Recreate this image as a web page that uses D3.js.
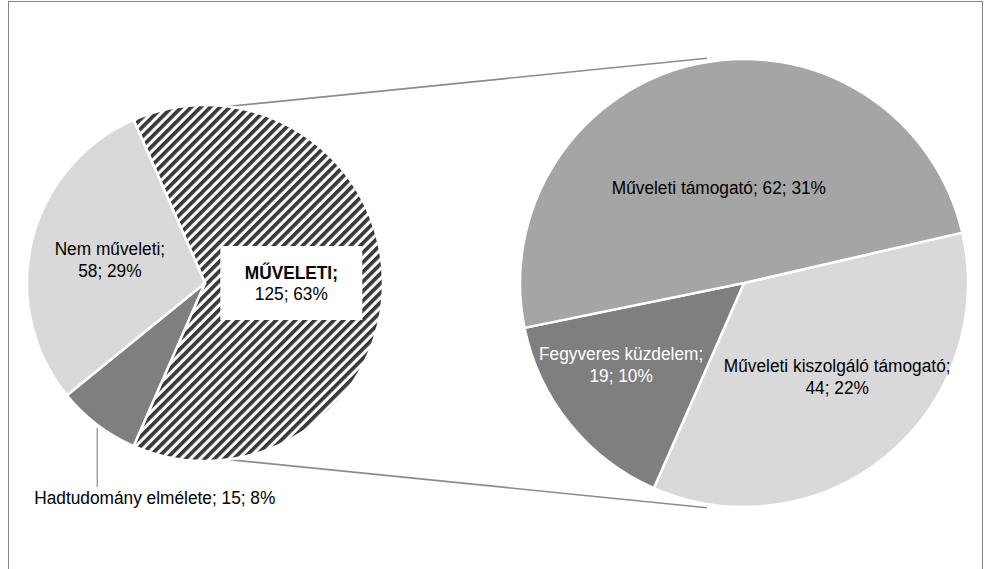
<!DOCTYPE html>
<html><head><meta charset="utf-8">
<script src="https://cdn.jsdelivr.net/npm/d3@7"></script>
<style>
html,body{margin:0;padding:0;background:#fff;}
svg{display:block;}
text{font-family:"Liberation Sans Narrow","Arial Narrow","Liberation Sans",Arial,sans-serif;font-size:18.4px;}
</style></head>
<body><svg id="chart" width="984" height="569"></svg>
<script>
// ---- data ----
const mainCategories = ["MŰVELETI", "Hadtudomány elmélete", "Nem műveleti"];
const mainValues = [125, 15, 58];
const subCategories = ["Műveleti kiszolgáló támogató", "Fegyveres küzdelem", "Műveleti támogató"];
const subValues = [44, 19, 62];
const mainColors = ["url(#hatch)", "#7f7f7f", "#d9d9d9"];
const subColors = ["#d9d9d9", "#7f7f7f", "#a5a5a5"];
const subTextColors = ["#000", "#fff", "#000"];

const svg = d3.select("#chart");
const total = d3.sum(mainValues);
const pct = v => Math.round(v / total * 100) + "%";
const SX = 0.94;

// border
svg.append("rect").attr("x", 8.5).attr("y", 1.5).attr("width", 974).attr("height", 600)
  .attr("fill", "none").attr("stroke", "#868686").attr("stroke-width", 1);

// hatch pattern
const defs = svg.append("defs");
const pat = defs.append("pattern").attr("id", "hatch").attr("patternUnits", "userSpaceOnUse")
  .attr("width", 6.8).attr("height", 6.8).attr("patternTransform", "rotate(45)");
pat.append("rect").attr("width", 6.8).attr("height", 6.8).attr("fill", "#fff");
pat.append("rect").attr("width", 3.7).attr("height", 6.8).attr("fill", "#383838");

// geometry
const c1 = {x: 205, y: 283, r: 178};
const c2 = {x: 744, y: 283, r: 224};
const deg = Math.PI / 180;

// connector lines (external tangents)
const dist = c2.x - c1.x;
const sinT = (c2.r - c1.r) / dist, cosT = Math.sqrt(1 - sinT * sinT);
[-1, 1].forEach(s => {
  const nx = -sinT, ny = s * cosT;
  const ux = cosT, uy = -s * sinT;
  const p1 = [c1.x + c1.r * nx + 25 * ux, c1.y + c1.r * ny + 25 * uy];
  const p2 = [c2.x + c2.r * nx - 18 * ux, c2.y + c2.r * ny - 18 * uy];
  svg.append("line").attr("x1", p1[0]).attr("y1", p1[1]).attr("x2", p2[0]).attr("y2", p2[1])
    .attr("stroke", "#8c8c8c").attr("stroke-width", 1.6);
});

// main pie
const mainStart = Math.PI / 2 - Math.PI * mainValues[0] / total;
const pie1 = d3.pie().sort(null).startAngle(mainStart).endAngle(mainStart + 2 * Math.PI);
const arcs1 = pie1(mainValues);
const arc1 = d3.arc().innerRadius(0).outerRadius(c1.r);
const g1 = svg.append("g").attr("transform", `translate(${c1.x},${c1.y})`);
g1.selectAll("path").data(arcs1).join("path")
  .attr("d", arc1).attr("fill", (d, i) => mainColors[i])
  .attr("stroke", "#fff").attr("stroke-width", 2.5).attr("stroke-linejoin", "round");

// sub pie
const subStart = 77 * deg;
const pie2 = d3.pie().sort(null).startAngle(subStart).endAngle(subStart + 2 * Math.PI);
const arcs2 = pie2(subValues);
const arc2 = d3.arc().innerRadius(0).outerRadius(c2.r);
const g2 = svg.append("g").attr("transform", `translate(${c2.x},${c2.y})`);
g2.selectAll("path").data(arcs2).join("path")
  .attr("d", arc2).attr("fill", (d, i) => subColors[i])
  .attr("stroke", "#fff").attr("stroke-width", 2.5).attr("stroke-linejoin", "round");

function polar(a, r) { return [r * Math.sin(a), -r * Math.cos(a)]; }
const LH = 22;
function multiLabel(g, pos, lines, color, weights, anchor) {
  const t = g.append("text").attr("text-anchor", anchor || "middle").attr("fill", color)
    .attr("transform", `translate(${pos[0]},${pos[1]}) scale(${SX},1)`);
  const n = lines.length;
  lines.forEach((ln, i) => {
    t.append("tspan").attr("x", 0).attr("y", (i - (n - 1) / 2) * LH + 6.5)
      .attr("font-weight", weights ? weights[i] : "normal").text(ln);
  });
  return t;
}

const midA = a => (a.startAngle + a.endAngle) / 2;
// MŰVELETI (boxed)
{
  const a = arcs1[0];
  const p = polar(midA(a), c1.r * 0.485);
  g1.append("rect").attr("x", p[0] - 71).attr("y", p[1] - 37).attr("width", 142).attr("height", 74).attr("fill", "#fff");
  multiLabel(g1, p, [mainCategories[0].toUpperCase() + ";", mainValues[0] + "; " + pct(mainValues[0])], "#000", ["bold", "normal"]);
}
// Nem műveleti
{
  const a = arcs1[2];
  const p = polar(midA(a), c1.r * 0.55);
  multiLabel(g1, p, [mainCategories[2] + ";", mainValues[2] + "; " + pct(mainValues[2])], "#000");
}
// Hadtudomány elmélete (outside with leader)
{
  const a = arcs1[1];
  const p = polar(midA(a), c1.r);
  g1.append("line").attr("x1", p[0]).attr("y1", p[1] + 3).attr("x2", p[0]).attr("y2", 487 - c1.y)
    .attr("stroke", "#8c8c8c").attr("stroke-width", 1.2);
  multiLabel(g1, [p[0] - 63, 497 - c1.y], [mainCategories[1] + "; " + mainValues[1] + "; " + pct(mainValues[1])], "#000", null, "start");
}

// sub labels (radius fraction and angular offset from slice middle)
const subR = [0.59, 0.658, 0.44];
const subDA = [-5.2, 5.4, -2.5];
arcs2.forEach((a, i) => {
  const p = polar(midA(a) + subDA[i] * deg, c2.r * subR[i]);
  const lines = i === 2
    ? [subCategories[i] + "; " + subValues[i] + "; " + pct(subValues[i])]
    : [subCategories[i] + ";", subValues[i] + "; " + pct(subValues[i])];
  multiLabel(g2, p, lines, subTextColors[i]);
});
</script></body></html>
